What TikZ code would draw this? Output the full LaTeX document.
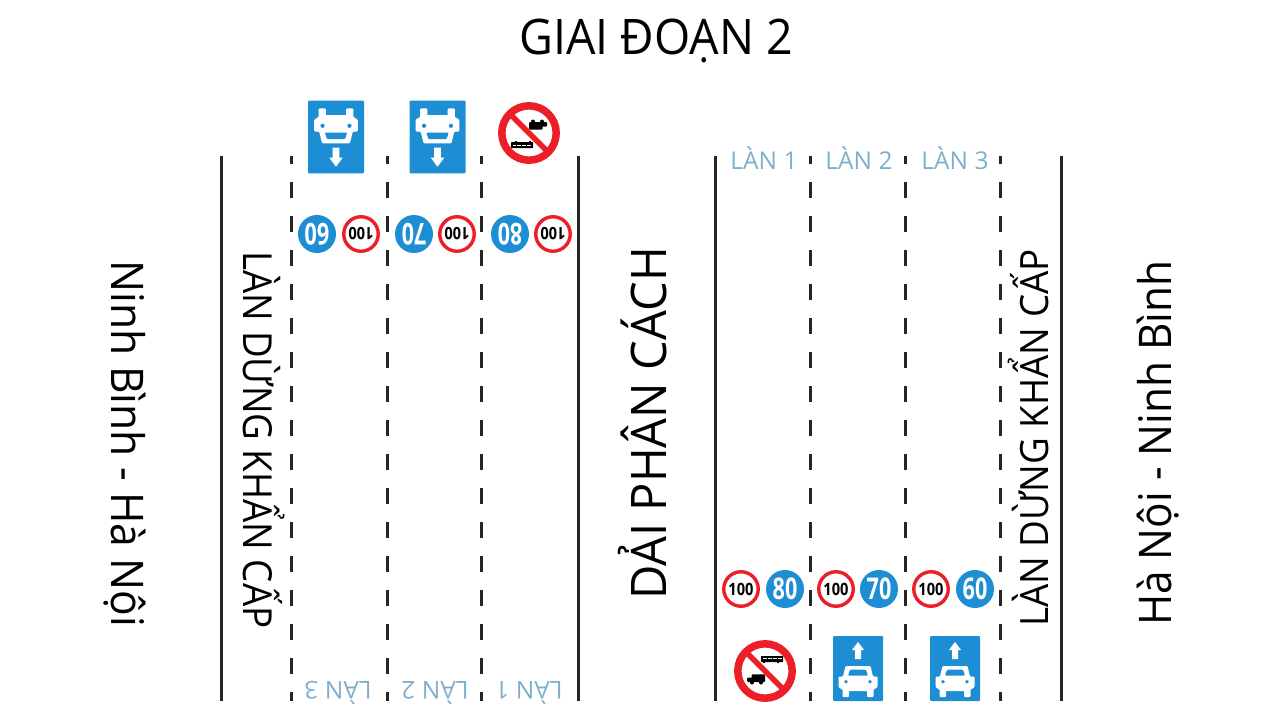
\documentclass[tikz,border=0pt]{standalone}
\usepackage{fontspec}
\setmainfont{Open Sans}
\definecolor{signblue}{RGB}{30,142,212}
\definecolor{signred}{RGB}{236,30,40}
\definecolor{lanblue}{RGB}{125,175,205}
\newcommand{\fs}[1]{\fontsize{#1}{#1}\selectfont}
\newcommand{\squeeze}[2]{\scalebox{#1}[1]{#2}}
\tikzset{
  bigtext/.style={inner sep=0pt, text=black, anchor=base west},
  lantext/.style={inner sep=0pt, text=lanblue, font=\fs{24.5}},
  maxsign/.style={circle, draw=signred, fill=white, line width=3.4pt, minimum size=34.5pt, inner sep=0pt, font=\fs{17}\bfseries},
  minsign/.style={circle, fill=signblue, minimum size=38pt, inner sep=0pt, text=white, font=\fs{30}\bfseries},
  solidline/.style={black!85, line width=3pt},
  laneline/.style={black!85, line width=3pt, dash pattern=on 16pt off 18pt, dash phase=8pt},
  pics/carsign/.style={code={
    \fill [signblue, rounded corners=1pt] (-25,-32.5) rectangle (25,32.5);
    \fill [white] (0,-26.5) -- (6,-18.5) -- (3,-18.5) -- (3,-9.5) -- (-3,-9.5) -- (-3,-18.5) -- (-6,-18.5) -- cycle;
    \begin{scope}[shift={(0,#1)}]
      \fill [white, rounded corners=1pt] (-12.5,-5.6) -- (12.5,-5.6) -- (15,4.8) -- (19.5,4.8) -- (19.5,15.5) -- (13,19.5) -- (-13,19.5) -- (-19.5,15.5) -- (-19.5,4.8) -- (-15,4.8) -- cycle;
      \fill [white, rounded corners=1pt] (-15.5,17) rectangle (-9,25.5);
      \fill [white, rounded corners=1pt] (9,17) rectangle (15.5,25.5);
      \fill [signblue, rounded corners=1pt] (-8,-2) -- (8,-2) -- (10,3.9) -- (-10,3.9) -- cycle;
      \fill [signblue] (-12,10) circle (1.9);
      \fill [signblue] (12,10) circle (1.9);
    \end{scope}
  }},
  pics/bansign/.style={code={
    \fill [white] (0,0) circle (27);
    \fill [black, rounded corners=0.5pt] (-4,-15) rectangle (18,-9);
    \fill [white] (-2,-13.4) rectangle (2,-11.6);
    \fill [white] (3,-13.4) rectangle (7,-11.6);
    \fill [white] (8,-13.4) rectangle (12,-11.6);
    \fill [white] (13,-13.4) rectangle (16.5,-11.6);
    \fill [black] (-1,-9) circle (1.3);
    \fill [black] (13,-9) circle (1.3);
    \fill [black, rounded corners=1pt] (-18,6.5) rectangle (-11,11);
    \fill [black, rounded corners=1pt] (-13.5,3.3) rectangle (0,11);
    \fill [black] (-13,11.5) circle (2);
    \fill [black] (-4,11.5) circle (2);
    \draw [signred, line width=5.5pt] (-19,-19) -- (19,19);
    \draw [signred, line width=7.5pt] (0,0) circle (27.2);
  }}
}
\begin{document}
\begin{tikzpicture}[x=1pt, y=-1pt]
  \useasboundingbox (0,0) rectangle (1280,720);
  \node [bigtext, font=\fs{49}] (title) at (519,54.3) {\squeeze{.95}{GIAI ĐOẠN 2}};

  \draw [solidline] (221,156) -- (221,701);
  \draw [solidline] (578,156) -- (578,701);
  \draw [solidline] (715,156) -- (715,701);
  \draw [solidline] (1061,156) -- (1061,701);
  \draw [laneline] (291,156) -- (291,701);
  \draw [laneline] (387,156) -- (387,701);
  \draw [laneline] (481,156) -- (481,701);
  \draw [laneline] (810,156) -- (810,701);
  \draw [laneline] (905,156) -- (905,701);
  \draw [laneline] (1000,156) -- (1000,701);

  \node [bigtext, rotate=-90, font=\fs{45}] (ninhbinh) at (111,260) {\squeeze{.945}{Ninh Bình - Hà Nội}};
  \node [bigtext, rotate=-90, font=\fs{40}] (dungleft) at (243,251.5) {\squeeze{.917}{LÀN DỪNG KHẨN CẤP}};
  \node [bigtext, rotate=90, font=\fs{49}] (phancach) at (666.7,600) {\squeeze{.962}{DẢI PHÂN CÁCH}};
  \node [bigtext, rotate=90, font=\fs{39}] (dungright) at (1048,627) {\squeeze{.943}{LÀN DỪNG KHẨN CẤP}};
  \node [bigtext, rotate=90, font=\fs{45}] (hanoi) at (1171,626) {\squeeze{.94}{Hà Nội - Ninh Bình}};

  \node [lantext] (lanR1) at (764,158) {LÀN 1};
  \node [lantext] (lanR2) at (859,158) {LÀN 2};
  \node [lantext] (lanR3) at (955,158) {LÀN 3};
  \node [lantext, rotate=180] (lanL3) at (338,693) {LÀN 3};
  \node [lantext, rotate=180] (lanL2) at (435,693) {LÀN 2};
  \node [lantext, rotate=180] (lanL1) at (529,693) {LÀN 1};

  \node [minsign, rotate=180] (minL3) at (317,234) {\scalebox{.72}[1]{60}};
  \node [maxsign, rotate=180] (maxL3) at (361,234) {\squeeze{.86}{100}};
  \node [minsign, rotate=180] (minL2) at (414,234) {\scalebox{.72}[1]{70}};
  \node [maxsign, rotate=180] (maxL2) at (457,234) {\squeeze{.86}{100}};
  \node [minsign, rotate=180] (minL1) at (510,234) {\scalebox{.72}[1]{80}};
  \node [maxsign, rotate=180] (maxL1) at (553,234) {\squeeze{.86}{100}};
  \node [maxsign] (maxR1) at (741,589) {\squeeze{.86}{100}};
  \node [minsign] (minR1) at (785,589) {\scalebox{.72}[1]{80}};
  \node [maxsign] (maxR2) at (836,589) {\squeeze{.86}{100}};
  \node [minsign] (minR2) at (879,589) {\scalebox{.72}[1]{70}};
  \node [maxsign] (maxR3) at (931,589) {\squeeze{.86}{100}};
  \node [minsign] (minR3) at (975,589) {\scalebox{.72}[1]{60}};

  \pic [rotate=180, scale=1.12] (carL3) at (336,137) {carsign=0};
  \pic [rotate=180, scale=1.12] (carL2) at (437.5,137) {carsign=0};
  \pic [rotate=180] (banL1) at (529,133) {bansign};
  \pic (banR1) at (765,671) {bansign};
  \pic (carR2) at (858,668.5) {carsign=3.2};
  \pic (carR3) at (955,668.5) {carsign=3.2};
\end{tikzpicture}
\end{document}
